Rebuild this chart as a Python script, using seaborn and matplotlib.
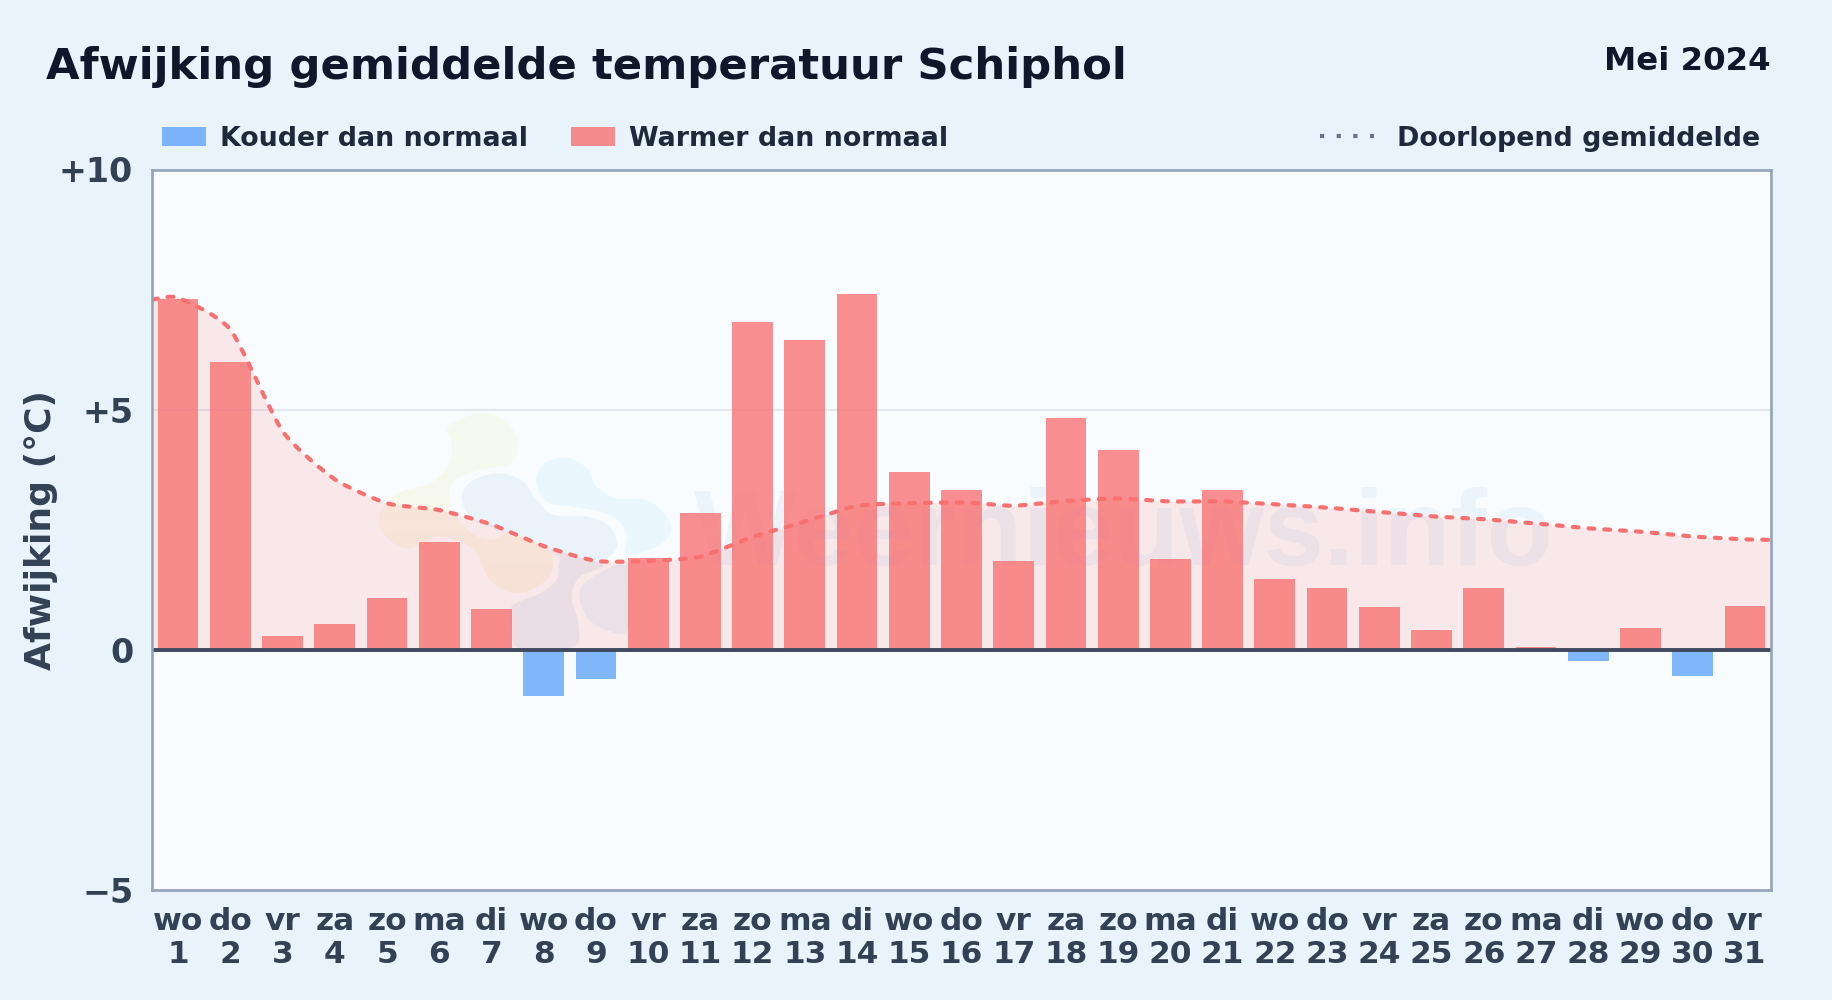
import numpy as np
import pandas as pd
import matplotlib
matplotlib.use("Agg")
import matplotlib.pyplot as plt
from matplotlib.colors import LinearSegmentedColormap
from matplotlib.patches import Patch, Polygon
from matplotlib.lines import Line2D
from matplotlib.transforms import Affine2D
import seaborn as sns

weekdays = ["wo","do","vr","za","zo","ma","di","wo","do","vr","za","zo","ma","di","wo","do",
            "vr","za","zo","ma","di","wo","do","vr","za","zo","ma","di","wo","do","vr"]
days = list(range(1, 32))
deviation = [7.30, 6.00, 0.29, 0.53, 1.07, 2.24, 0.85, -0.97, -0.61, 1.92, 2.85, 6.82, 6.45, 7.40,
             3.70, 3.33, 1.85, 4.82, 4.16, 1.90, 3.33, 1.48, 1.29, 0.90, 0.41, 1.29, 0.05, -0.24,
             0.46, -0.55, 0.92]
running_mean = [7.33, 6.67, 4.55, 3.55, 3.05, 2.91, 2.61, 2.16, 1.85, 1.85, 1.94, 2.35, 2.67, 3.00,
                3.05, 3.07, 3.00, 3.10, 3.15, 3.09, 3.09, 3.03, 2.96, 2.87, 2.78, 2.72, 2.63, 2.53,
                2.46, 2.36, 2.30]
mean_at_left_edge = 7.29
mean_at_right_edge = 2.29
ytick_values = [-5, 0, 5, 10]
ytick_labels = ["\u22125", "0", "+5", "+10"]

BG = "#e8f3fc"
AX = "#f8fcff"
RED = "#f87171"
BLUE = "#60a5fa"

sns.set_theme(style="white")
plt.rcParams["font.family"] = ["DejaVu Sans"]
plt.rcParams["font.weight"] = "bold"

W, H = 1832, 1000
fig = plt.figure(figsize=(W / 100, H / 100), dpi=100, facecolor=BG)
L, R, T, B = 152, 1771, 169.5, 890
ax = fig.add_axes([L / W, 1 - B / H, (R - L) / W, (B - T) / H], facecolor=AX)

labels = [f"{w}\n{d}" for w, d in zip(weekdays, days)]
df = pd.DataFrame({"dag": labels, "afwijking": deviation,
                   "soort": ["warm" if v >= 0 else "koud" for v in deviation]})
sns.barplot(data=df, x="dag", y="afwijking", hue="soort", order=labels, dodge=False,
            palette={"warm": RED, "koud": BLUE}, saturation=1, alpha=0.79, width=0.78,
            linewidth=0, legend=False, ax=ax, zorder=3)


def smooth(x, y, tension=0.28, n=12, closed=False):
    """Cardinal-spline rendering of a curve through the given points."""
    x, y = np.asarray(x, float), np.asarray(y, float)
    def run(p):
        if closed:
            q = np.r_[p[-1], p, p[0], p[1]]
        else:
            q = np.r_[p[0], p, p[-1]]
        a, b, c, d = q[:-3], q[1:-2], q[2:-1], q[3:]
        m0, m1 = tension * (c - a), tension * (d - b)
        t = np.linspace(0, 1, n, endpoint=False)[:, None]
        h00, h10, h01, h11 = 2*t**3 - 3*t**2 + 1, t**3 - 2*t**2 + t, -2*t**3 + 3*t**2, t**3 - t**2
        out = (h00 * b + h10 * m0 + h01 * c + h11 * m1).T.ravel()
        return out if closed else np.r_[out, p[-1]]
    return run(x), run(y)


line_x = np.r_[-0.5, np.arange(31), 30.5]
line_y = np.r_[mean_at_left_edge, running_mean, mean_at_right_edge]
sx, sy = smooth(line_x, line_y, tension=0.3)
ax.fill_between(sx, 0, sy, color=RED, alpha=0.14, linewidth=0, zorder=2)
sns.lineplot(x=sx, y=sy, color=RED, linewidth=3.0, estimator=None, sort=False, ax=ax, zorder=5,
             dashes=False, legend=False)
ax.lines[-1].set_linestyle((0, (1.4, 2.4)))
ax.lines[-1].set_dash_capstyle("round")

# watermark: faint logo shapes and site name behind the data (outline points in figure pixels)
px = Affine2D().scale(1, -1).translate(0, H)
def outline(pts):
    a = np.array(pts, float)
    return smooth(340 + a[:, 0] / 3, 390 + a[:, 1] / 3, tension=0.5, closed=True)
def blob(pts, color):
    xs, ys = outline(pts)
    ax.add_patch(Polygon(np.c_[xs, ys], closed=True, transform=px, facecolor=color, lw=0, zorder=1.2))
def gradient_blob(pts, top, bottom):
    xs, ys = outline(pts)
    patch = Polygon(np.c_[xs, ys], closed=True, transform=px, facecolor="none", lw=0)
    ax.add_patch(patch)
    cmap = LinearSegmentedColormap.from_list("logo", [top, bottom])
    im = ax.imshow(np.linspace(0, 1, 64)[:, None], extent=(xs.min(), xs.max(), ys.max(), ys.min()),
                   origin="upper", aspect="auto", cmap=cmap, transform=px, zorder=1.2)
    im.set_clip_path(patch)

gradient_blob([(325,110),(420,70),(500,95),(532,160),(510,220),(420,240),(345,270),(330,330),
               (370,410),(450,450),(540,405),(620,430),(640,510),(620,570),(530,610),(450,570),
               (400,480),(300,440),(200,475),(130,430),(120,370),(170,310),(270,280),(330,220),
               (335,160)], "#f5fbf1", "#faf5e8")
blob([(365,320),(400,270),(480,250),(550,275),(590,330),(640,375),(740,380),(810,410),(830,470),
      (790,510),(720,515),(650,495),(600,460),(500,425),(400,390)], "#ebf3fa")
blob([(515,650),(600,610),(650,570),(670,505),(790,525),(720,560),(695,620),(715,700),(700,770),
      (540,775),(515,720)], "#e8eff7")
blob([(590,260),(620,215),(690,205),(745,240),(770,290),(830,325),(920,330),(980,380),(990,430),
      (950,470),(860,490),(860,430),(810,375),(700,350),(630,340),(600,310)], "#ebf7fe")
blob([(720,600),(780,550),(865,530),(865,715),(800,720),(740,680)], "#e8f3fc")
ax.text(1124, 565, "Weernieuws.info", transform=px, ha="center", va="baseline", fontsize=78,
        family="Liberation Sans", fontweight="bold", color="#bcd8ec", alpha=0.22, zorder=1.3)

ax.set_xlim(-0.5, 30.5)
ax.set_ylim(-5, 10)
ax.set_yticks(ytick_values, ytick_labels)
ax.tick_params(axis="y", length=0, pad=13.5, labelsize=24, labelcolor="#334155")
ax.tick_params(axis="x", length=0, pad=12, labelsize=22.5, labelcolor="#334155")
for t in ax.get_xticklabels():
    t.set_linespacing(1.2)
ax.set_xlabel("")
ax.set_ylabel("Afwijking (\u00b0C)", fontsize=26, color="#334155", fontweight="bold")
ax.yaxis.set_label_coords((58 - L) / (R - L), 0.5)
for s in ax.spines.values():
    s.set_color("#94a3b8")
    s.set_linewidth(1.9)
    s.set_zorder(8)
ax.axhline(5, color="#e2e8f0", lw=1.5, zorder=1)
ax.axhline(0, color="#3f4a5f", lw=2.8, zorder=6)

# titles
fig.text(46 / W, 1 - 79 / H, "Afwijking gemiddelde temperatuur Schiphol", fontsize=31.2,
         fontweight="bold", color="#0f172a", ha="left", va="baseline")
fig.text(1771 / W, 1 - 70 / H, "Mei 2024", fontsize=23.3, fontweight="bold", color="#0f172a",
         ha="right", va="baseline")

# legends
h1 = [Patch(color=BLUE, alpha=0.8, lw=0, label="Kouder dan normaal"),
      Patch(color=RED, alpha=0.8, lw=0, label="Warmer dan normaal")]
fig.legend(handles=h1, loc="center left", bbox_to_anchor=(162 / W, 1 - 138.5 / H), ncols=2,
           frameon=False, fontsize=19.35, labelcolor="#1e293b", borderpad=0, borderaxespad=0,
           handlelength=1.64, handleheight=0.7, handletextpad=0.5, columnspacing=1.62)
h2 = [Line2D([], [], color="#64748b", lw=3.0, linestyle=(0, (1, 3)), label="Doorlopend gemiddelde")]
fig.legend(handles=h2, loc="center right", bbox_to_anchor=(1760 / W, 1 - 138.5 / H),
           frameon=False, fontsize=19.35, labelcolor="#1e293b", borderpad=0, borderaxespad=0,
           handlelength=2.0, handletextpad=0.85)

fig.savefig("out.png", dpi=100, facecolor=BG)
